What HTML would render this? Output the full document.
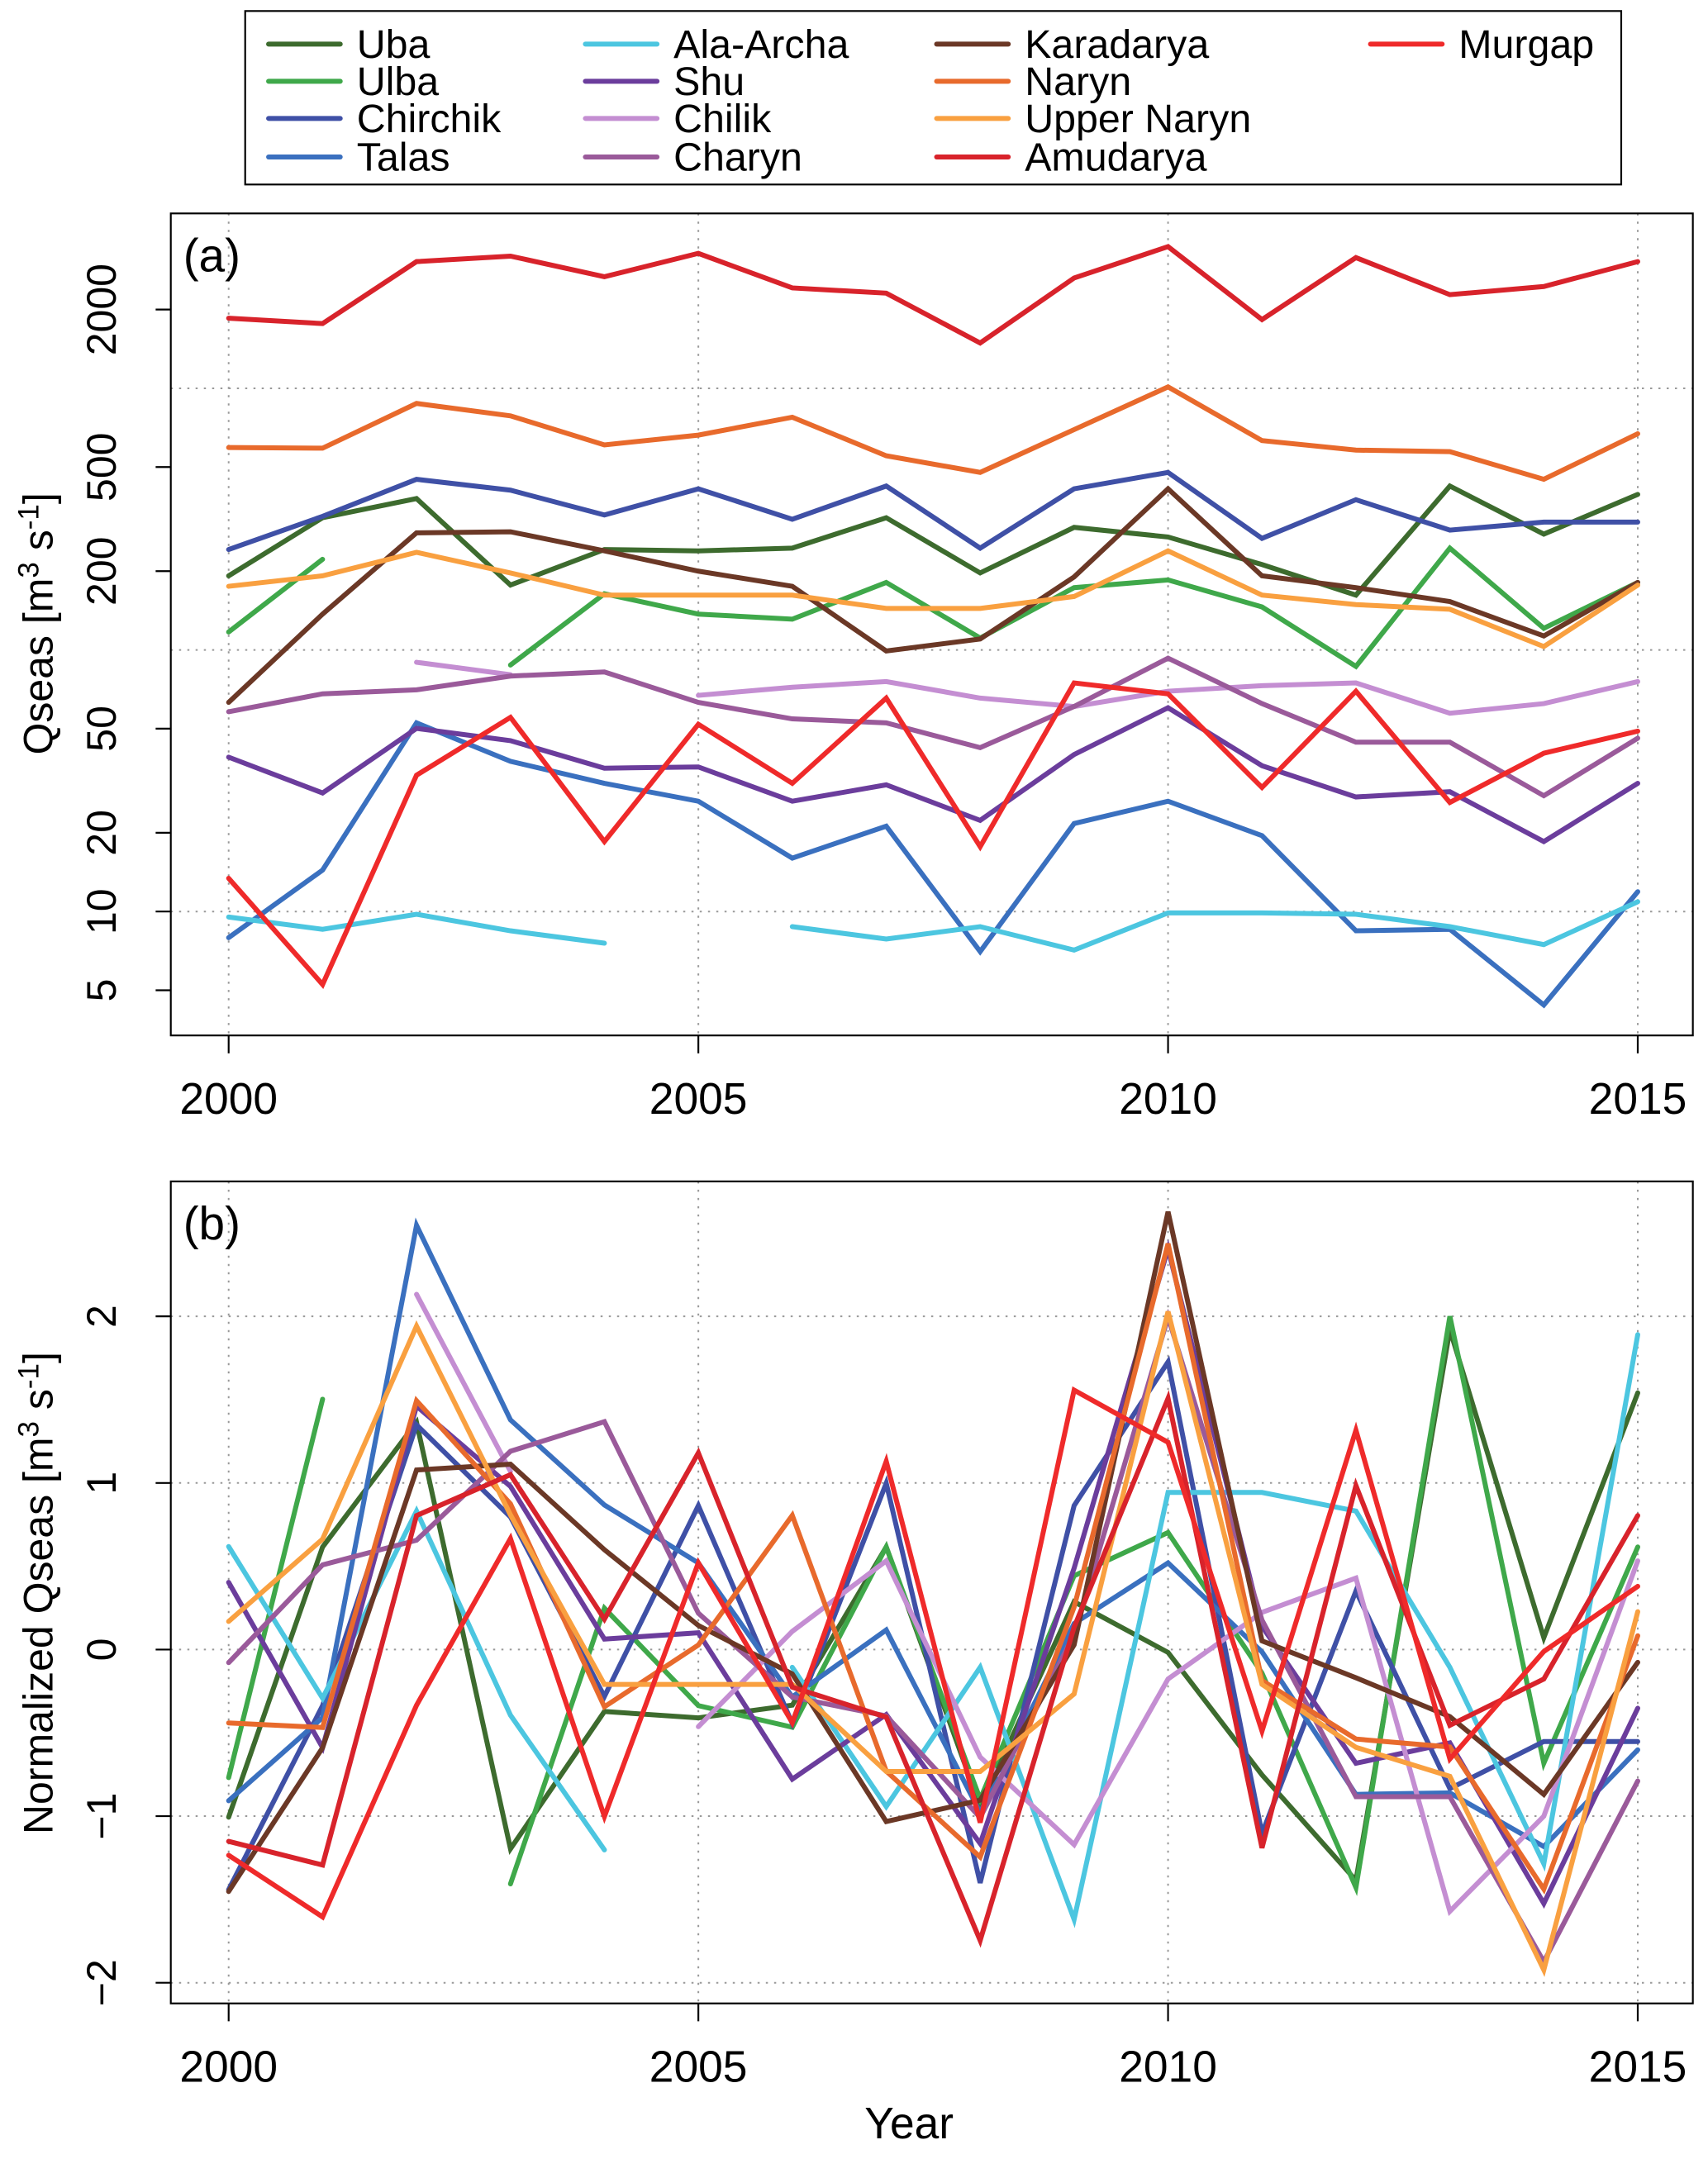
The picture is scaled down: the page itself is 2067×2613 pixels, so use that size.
<!DOCTYPE html>
<html><head><meta charset="utf-8"><style>
html,body{margin:0;padding:0;background:#fff}
svg{display:block}
text{font-family:"Liberation Sans",Arial,sans-serif;fill:#000}
</style></head><body>
<svg id="chart" xmlns="http://www.w3.org/2000/svg" width="2067" height="2613" viewBox="0 0 1240 1568" preserveAspectRatio="none">
<rect x="0" y="0" width="1240" height="1568" fill="#fff"/>
</svg>
<script>
const years = [2000,2001,2002,2003,2004,2005,2006,2007,2008,2009,2010,2011,2012,2013,2014,2015];
const seriesNames = ["Uba","Ulba","Chirchik","Talas","Ala-Archa","Shu","Chilik","Charyn","Karadarya","Naryn","Upper Naryn","Amudarya","Murgap"];
const seriesColors = ["#3d6b2e","#3fa84a","#3f50a6","#3a70bf","#4cc6e0","#6b3d9c","#c48ed2","#9a5a9a","#6b3826","#e86a2c","#f9a040","#d8232b","#ef2a2a"];
const uba = [192,320,379,177,242,239,245,320,197,294,270,212,162,423,277,393];
const ulba = [117,222,null,87.5,164,137,131,181,111,173,185,146,86.5,245,121,181];
const chirchik = [242,324,449,408,328,413,316,423,245,413,477,267,375,287,308,308];
const talas = [7.94,14.4,52.6,37.5,30.9,26.4,16,21.2,7.03,21.7,26.4,19.5,8.44,8.55,4.39,11.9];
const alaArcha = [9.53,8.55,9.76,8.44,7.57,null,8.75,7.85,8.75,7.12,9.88,9.88,9.76,8.75,7.48,10.9];
const shu = [38.9,28.4,50.1,45,35.3,35.7,26.4,30.5,22.3,39.8,60.1,36.1,27.4,28.7,18.5,30.9];
const chilik = [null,null,89.7,80.4,null,67,72,75.7,65.4,60.8,69.5,73,74.8,57.3,62.3,75.7];
const charyn = [58,67.9,70.4,79.4,82.4,63,54.5,52.6,42.3,60.8,93,62.3,44.4,44.4,27.7,46];
const karadarya = [63,137,280,283,239,200,175,99,110,190,413,192,173,153,113,181];
const naryn = [594,590,875,785,608,662,775,552,477,695,1012,631,580,573,449,670];
const upperNaryn = [175,192,236,197,162,162,162,144,144,160,239,162,149,143,103,177];
const amudarya = [1854,1767,3050,3200,2670,3280,2420,2310,1490,2640,3480,1830,3160,2280,2450,3050];
const murgap = [13.4,5.26,33.2,55.2,18.5,52,30.9,65.4,17.7,74.8,67.9,29.8,69.5,26.1,40.3,48.9];
const seriesValues = [uba,ulba,chirchik,talas,alaArcha,shu,chilik,charyn,karadarya,naryn,upperNaryn,amudarya,murgap];
const logTicks = [5,10,20,50,200,500,2000];
const logGrid = [10,100,1000];
const normTicks = [-2,-1,0,1,2];
const yearTicks = [2000,2005,2010,2015];

const NS="http://www.w3.org/2000/svg";
const svg=document.getElementById('chart');
function mk(tag,attrs,parent){const e=document.createElementNS(NS,tag);for(const k in attrs)e.setAttribute(k,attrs[k]);(parent||svg).appendChild(e);return e;}
const xS=y=>166+(y-2000)*(1189-166)/15;
const yA=v=>662-(Math.log10(v)-1)*190;
const yB=v=>1198-v*121;

function zscore(arr){const v=arr.filter(a=>a!==null);const m=v.reduce((a,b)=>a+b,0)/v.length;
 const sd=Math.sqrt(v.reduce((a,b)=>a+(b-m)*(b-m),0)/(v.length-1));return arr.map(a=>a===null?null:(a-m)/sd);}

function panel(top,bot,label,yfun,ticks,grid,fmt,title,titleY,vals,key){
 const g=mk('g',{});
 
 
 grid.forEach(t=>{const l=mk('line',{x1:124,x2:1229,y1:yfun(t),y2:yfun(t),stroke:'#999','stroke-width':1.2,'stroke-dasharray':'1.5 4.5'},g);
  });
 yearTicks.forEach(t=>{const l=mk('line',{x1:xS(t),x2:xS(t),y1:top,y2:bot,stroke:'#999','stroke-width':1.2,'stroke-dasharray':'1.5 4.5'},g);
  });
 vals.forEach((arr,i)=>{let d='';let pen=false;arr.forEach((v,j)=>{if(v===null){pen=false;return;}
   d+=(pen?'L':'M')+xS(years[j]).toFixed(1)+' '+yfun(v).toFixed(1)+' ';pen=true;});
  const p=mk('path',{d:d,fill:'none',stroke:seriesColors[i],'stroke-width':3.6,'stroke-linejoin':'miter','stroke-linecap':'round'},g);
  
  });
 const fr=mk('rect',{x:124,y:top,width:1105,height:bot-top,fill:'none',stroke:'#000','stroke-width':1.3},g);
 
 ticks.forEach(t=>{const y=yfun(t);mk('line',{x1:113,x2:124,y1:y,y2:y,stroke:'#000','stroke-width':1.3},g);
  const tx=mk('text',{x:84,y:y,'font-size':30,'text-anchor':'middle',transform:'rotate(-90 84 '+y+')'},g);
  tx.textContent=fmt(t);});
 yearTicks.forEach(t=>{const x=xS(t);mk('line',{x1:x,x2:x,y1:bot,y2:bot+13,stroke:'#000','stroke-width':1.3},g);
  const tx=mk('text',{x:x,y:bot+57,'font-size':32,'text-anchor':'middle'},g);
  tx.textContent=t;});
 const pl=mk('text',{x:133,y:top+42,'font-size':34},g);pl.textContent=label;
 
 const yt=mk('text',{x:38,y:titleY,'font-size':30,'text-anchor':'middle',transform:'rotate(-90 38 '+titleY+')'},g);
 yt.innerHTML=title+' [m<tspan dy="-10" font-size="21">3</tspan><tspan dy="10"> s</tspan><tspan dy="-10" font-size="21">-1</tspan><tspan dy="10">]</tspan>';
 
}
panel(155,752,'(a)',yA,logTicks,logGrid,t=>String(t),'Qseas',453,seriesValues,'qseas');
panel(858,1455,'(b)',yB,normTicks,normTicks,t=>t<0?'\u2212'+Math.abs(t):String(t),'Normalized Qseas',1157,seriesValues.map(zscore),'normalized');
const xl=mk('text',{x:660,y:1553,'font-size':32,'text-anchor':'middle'});xl.textContent='Year';


const lg=mk('g',{});


mk('rect',{x:178,y:8,width:999,height:126,fill:'#fff',stroke:'#000','stroke-width':1.3},lg);
const colX=[195,425,680,995];const rowY=[32,59,86,114];
seriesNames.forEach((n,i)=>{const c=Math.floor(i/4),r=i%4;const x=colX[c],y=rowY[r];
 const e=mk('g',{},lg);
 
 
 mk('line',{x1:x,x2:x+52,y1:y,y2:y,stroke:seriesColors[i],'stroke-width':3.6,'stroke-linecap':'round'},e);
 const t=mk('text',{x:x+64,y:y+10,'font-size':29},e);t.textContent=n;});
</script>
</body></html>
